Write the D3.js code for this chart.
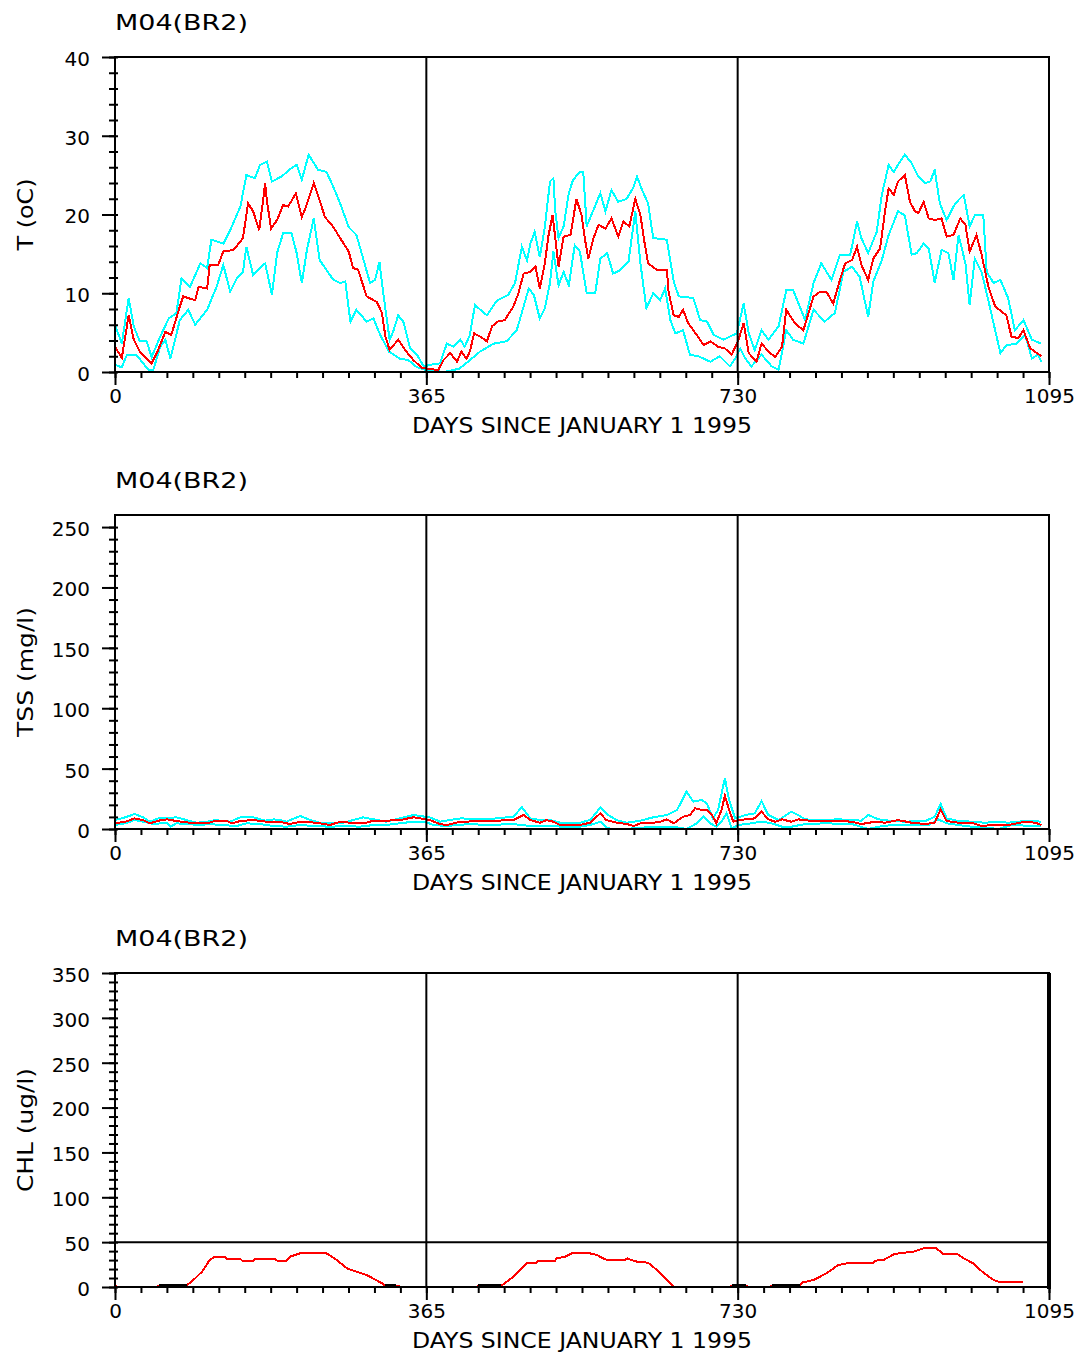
<!DOCTYPE html>
<html><head><meta charset="utf-8">
<script src="https://cdn.jsdelivr.net/npm/d3@7"></script>
<style>
body{margin:0;background:#fff}
svg{display:block}
text{font-family:"DejaVu Sans",sans-serif;fill:#000}
</style>
</head><body>
<svg id="chart" width="1087" height="1354"></svg>
<script>
// ---------------- DATA ----------------
const stationTitle = "M04(BR2)";
const xAxisTitle = "DAYS SINCE JANUARY 1 1995";
const xLabelDays = [0, 365, 730, 1095];
const yearLineDays = [365, 730];
const tempTicks = [0, 10, 20, 30, 40];
const tssTicks = [0, 50, 100, 150, 200, 250];
const chlTicks = [0, 50, 100, 150, 200, 250, 300, 350];
const chlRefLine = [50];

// Temperature (oC): [day, value]
const tempMax = [[0,6.0],[8,3.6],[16,9.4],[22,5.8],[29,3.9],[37,3.9],[43,1.9],[53,4.5],[63,6.8],[72,7.5],[78,11.9],[88,10.8],[100,13.8],[108,13.2],[113,16.8],[127,16.3],[135,18.0],[147,21.0],[154,25.0],[164,24.6],[170,26.3],[178,26.7],[184,24.2],[195,24.8],[207,25.9],[213,26.3],[219,24.4],[227,27.6],[238,25.7],[248,25.4],[256,23.5],[264,21.4],[274,18.4],[283,17.4],[291,14.4],[299,11.3],[305,11.7],[310,14.0],[315,9.6],[322,4.1],[326,5.1],[332,7.2],[338,6.4],[346,3.0],[354,2.2],[362,0.7],
[369,0.9],[381,1.1],[389,3.6],[397,3.2],[405,4.1],[410,3.2],[416,4.7],[422,8.5],[436,7.2],[448,9.1],[461,9.8],[469,11.3],[477,15.9],[483,14.2],[487,16.3],[492,17.8],[498,14.6],[504,18.5],[510,24.2],[514,24.6],[516,20.6],[520,17.0],[526,18.5],[532,22.7],[537,24.4],[545,25.4],[549,25.4],[553,18.5],[561,20.6],[569,22.7],[575,20.4],[582,23.1],[590,21.6],[600,22.0],[608,23.5],[612,24.8],[618,23.1],[625,21.4],[631,17.0],[647,16.8],[655,11.5],[661,9.6],[678,9.4],[686,6.6],[694,6.4],[702,4.7],[713,4.1],[729,4.9],[737,8.7],[743,4.9],
[750,2.8],[758,5.3],[766,4.1],[778,5.8],[787,10.4],[795,10.4],[809,6.6],[819,11.3],[828,13.8],[840,11.7],[850,14.9],[862,14.9],[870,19.1],[875,17.0],[883,15.1],[893,17.8],[899,22.5],[907,26.3],[913,25.4],[918,26.3],[926,27.6],[934,26.5],[942,24.8],[950,24.0],[956,24.2],[961,25.7],[967,21.4],[975,19.3],[985,21.4],[995,22.5],[1002,18.5],[1008,19.9],[1018,19.9],[1022,12.7],[1030,11.3],[1038,11.7],[1047,9.4],[1055,5.3],[1065,6.6],[1075,4.1],[1086,3.6]];

const tempMean = [[0,3.2],[8,1.8],[16,7.2],[22,4.1],[29,2.6],[43,1.1],[49,2.4],[59,5.1],[66,4.7],[76,8.3],[80,9.6],[94,9.1],[98,10.8],[108,10.6],[111,13.6],[121,13.6],[127,15.3],[139,15.5],[150,17.0],[156,21.4],[162,20.4],[169,18.0],[174,22.1],[176,24.0],[178,21.8],[183,18.2],[190,19.3],[197,21.2],[203,21.0],[212,22.7],[219,19.7],[224,21.0],[233,24.0],[240,21.8],[246,19.7],[256,18.4],[264,17.0],[274,15.3],[279,13.2],[285,13.0],[295,9.6],[307,8.9],[313,7.5],[317,4.5],[322,2.8],[332,4.1],[340,2.8],[350,1.5],[360,0.5],
[365,0.45],[379,0.25],[385,1.5],[393,2.4],[401,1.3],[406,2.6],[412,1.7],[416,2.6],[421,4.9],[428,4.5],[436,3.9],[442,5.8],[449,6.4],[457,6.6],[467,8.3],[473,10.0],[479,12.5],[487,12.7],[493,13.4],[498,10.6],[504,13.8],[508,17.2],[513,19.9],[516,17.2],[520,13.4],[526,17.2],[534,17.4],[541,22.0],[547,19.9],[551,16.8],[555,14.4],[561,17.0],[567,18.7],[575,18.2],[582,19.5],[590,17.2],[596,19.1],[603,18.5],[610,22.0],[616,19.9],[621,16.3],[625,13.8],[635,13.0],[647,13.0],[649,10.2],[655,7.2],[661,7.0],[666,7.9],[672,6.2],[682,4.7],[690,3.4],[698,3.9],[707,3.2],[715,3.0],[723,2.2],[731,4.1],[737,6.2],[743,2.4],
[752,1.3],[758,3.6],[768,2.4],[774,1.9],[782,3.2],[787,7.9],[797,6.2],[807,5.3],[819,9.6],[827,10.2],[834,10.2],[842,8.7],[850,11.7],[856,13.8],[864,14.2],[870,15.9],[875,13.6],[883,11.7],[889,14.4],[897,15.7],[903,20.6],[907,23.3],[913,22.5],[918,24.2],[926,25.0],[932,21.6],[938,20.4],[942,20.2],[948,21.6],[954,19.5],[961,19.3],[969,19.5],[975,17.2],[983,17.4],[991,19.5],[997,18.7],[1002,15.3],[1010,17.4],[1016,14.9],[1024,10.8],[1032,8.3],[1045,7.2],[1051,4.5],[1059,4.3],[1065,5.3],[1073,3.0],[1081,2.4],[1086,2.0]];

const tempMin = [[0,0.9],[8,0.6],[14,2.2],[25,2.2],[33,1.1],[39,0.3],[45,0.3],[53,3.2],[59,4.1],[65,1.7],[76,6.6],[86,7.9],[94,6.0],[108,7.9],[119,10.8],[127,13.6],[135,10.2],[143,11.9],[150,12.7],[154,15.9],[162,12.3],[176,13.8],[184,9.8],[190,15.1],[197,17.6],[207,17.6],[213,15.1],[219,11.3],[225,15.5],[233,19.5],[240,14.2],[256,11.7],[264,11.3],[270,11.5],[276,6.4],[283,7.9],[295,6.4],[303,6.8],[311,4.7],[321,2.6],[334,1.7],[344,1.5],[354,0.6],[363,0.3],
[369,0.25],[385,0.0],[397,0.25],[404,0.45],[416,1.5],[428,2.6],[444,3.6],[459,3.9],[471,5.3],[479,8.3],[485,10.6],[491,9.8],[498,6.8],[504,8.1],[510,11.3],[514,15.3],[520,11.0],[526,12.7],[532,11.0],[539,16.1],[545,15.3],[553,10.0],[563,10.0],[569,14.4],[577,15.1],[584,12.5],[592,12.9],[602,14.0],[610,20.4],[616,13.8],[623,8.1],[631,10.0],[639,9.1],[645,10.6],[651,6.6],[657,4.9],[666,5.3],[674,2.2],[684,2.0],[698,1.3],[709,2.0],[721,0.7],[727,1.7],
[733,3.0],[739,1.7],[746,0.7],[758,2.2],[770,0.7],[778,0.3],[787,5.3],[795,4.1],[807,3.6],[819,7.9],[832,6.4],[844,7.5],[854,12.7],[864,13.4],[873,12.1],[883,7.0],[889,11.5],[899,14.2],[907,17.4],[918,20.4],[926,19.9],[934,14.9],[940,15.1],[948,16.3],[954,15.7],[961,11.3],[969,15.5],[977,15.1],[983,11.7],[989,17.4],[997,13.8],[1002,8.5],[1008,14.4],[1016,12.7],[1026,8.1],[1038,2.4],[1045,3.4],[1057,3.6],[1067,4.7],[1075,1.7],[1082,2.2],[1086,1.3]];

// TSS (mg/l)
const tssMax = [[0,7.4],[12,9.7],[23,12.4],[33,9.7],[41,6.1],[51,8.8],[61,8.8],[72,9.7],[84,7.4],[96,5.2],[108,6.1],[117,7.4],[135,6.1],[147,9.7],[162,9.7],[176,6.9],[186,8.0],[193,7.4],[201,6.1],[217,10.8],[229,7.4],[240,5.2],[256,5.2],[268,5.2],[279,7.4],[291,9.7],[303,8.0],[318,6.1],[334,8.8],[350,11.6],[363,10.2],
[369,9.7],[381,6.1],[405,8.8],[436,8.0],[467,10.2],[477,18.0],[487,8.8],[498,7.4],[510,7.4],[522,5.2],[545,5.2],[557,7.4],[569,17.8],[578,11.6],[588,7.4],[600,5.2],[616,6.9],[631,9.7],[647,11.6],[659,15.7],[664,22.6],[670,30.9],[678,22.6],[688,24.0],[694,21.2],[701,8.8],[707,15.7],[715,42.0],[720,24.0],[727,8.8],
[739,11.6],[750,13.0],[758,22.9],[766,11.6],[778,7.4],[793,14.3],[801,11.6],[809,8.0],[825,7.4],[848,8.0],[864,7.4],[875,6.9],[883,11.6],[895,8.0],[911,6.6],[926,6.1],[950,6.6],[961,10.2],[968,20.7],[975,8.8],[989,6.6],[1004,6.1],[1020,5.2],[1036,6.1],[1047,5.2],[1059,6.1],[1071,6.6],[1086,6.1]];

const tssMean = [[0,4.7],[12,6.0],[23,8.8],[33,7.4],[41,4.7],[51,6.9],[61,8.0],[72,6.6],[88,5.2],[111,5.2],[117,6.9],[131,6.6],[137,4.7],[147,6.6],[162,7.4],[178,6.0],[193,6.0],[205,4.1],[217,6.0],[236,5.2],[252,3.3],[264,6.0],[276,5.2],[295,5.2],[303,6.9],[318,6.9],[334,7.4],[350,9.7],[360,8.5],
[369,7.4],[381,4.1],[389,3.3],[405,6.0],[436,6.6],[467,7.4],[479,11.6],[487,7.4],[498,5.2],[506,7.4],[514,6.0],[522,3.3],[545,3.3],[557,5.2],[569,13.0],[576,7.4],[588,5.2],[600,4.1],[608,2.5],[616,4.7],[631,5.2],[639,6.0],[647,8.0],[655,4.7],[666,10.2],[674,11.6],[680,17.1],[688,15.7],[694,15.7],[700,11.6],[705,4.7],[711,15.7],[715,27.5],[720,15.7],[725,6.0],
[731,7.4],[750,8.8],[758,14.3],[766,8.0],[774,6.0],[782,8.0],[793,6.0],[801,8.0],[817,6.6],[852,6.6],[864,6.0],[875,4.1],[891,6.0],[903,5.2],[918,7.4],[934,5.2],[950,4.1],[961,5.2],[968,16.3],[975,6.6],[989,5.2],[1004,5.2],[1016,2.5],[1028,3.3],[1047,3.3],[1067,6.0],[1079,5.2],[1086,3.3]];

const tssMin = [[0,3.3],[12,4.7],[23,7.4],[33,6.1],[45,4.1],[61,5.2],[65,1.9],[72,4.7],[84,4.1],[100,3.3],[111,4.1],[123,3.3],[143,2.5],[154,4.7],[170,4.1],[186,2.5],[201,1.9],[217,3.3],[233,2.5],[252,1.9],[272,2.5],[287,1.9],[303,3.3],[318,3.3],[334,4.7],[350,6.1],[363,6.1],
[373,3.3],[389,2.5],[416,4.1],[436,3.3],[467,4.1],[487,2.5],[506,2.5],[526,1.9],[545,1.9],[557,3.3],[569,6.1],[578,0.5],[592,0.0],[608,0.5],[631,1.9],[655,1.9],[670,0.0],[682,4.7],[690,10.2],[698,4.7],[705,1.9],[711,6.1],[717,13.0],[723,0.5],
[731,3.3],[746,4.7],[758,6.1],[770,4.7],[782,1.9],[793,1.9],[809,4.1],[832,4.7],[864,4.1],[883,0.0],[895,1.9],[911,3.3],[934,3.3],[954,3.3],[965,8.0],[975,4.7],[989,3.3],[1004,1.9],[1020,1.1],[1036,0.0],[1051,3.3],[1067,2.8],[1086,2.8]];

// CHL (ug/l)
const chlMean = [[0,1.1],[3,0.4],[50,0.4],[51,1.5],[84,1.5],[86,3.3],[94,9.7],[102,17.1],[111,30.1],[117,33.8],[129,33.8],[131,31.2],[147,31.2],[149,29.4],[162,29.4],[164,31.2],[188,31.2],[190,29.4],[201,29.4],[205,33.8],[217,37.5],[248,37.5],[260,30.1],[272,20.8],[283,17.1],[295,13.4],[313,4.1],[316,1.5],[330,1.5],[334,0.4],
[424,0.4],[426,1.5],[453,1.5],[467,11.5],[483,26.4],[494,26.4],[496,29.4],[516,29.4],[518,32.0],[528,33.8],[537,38.3],[553,38.3],[565,35.7],[572,32.0],[577,30.1],[598,30.1],[601,32.0],[605,30.1],[612,28.3],[625,27.1],[633,20.8],[643,11.5],[653,2.2],[655,0.4],
[721,0.4],[723,1.5],[740,1.5],[742,0.4],[768,0.4],[770,1.5],[803,1.5],[805,4.8],[819,7.8],[834,15.2],[848,24.5],[858,26.4],[889,26.4],[891,29.4],[901,30.1],[914,36.9],[936,39.4],[948,43.1],[963,43.1],[971,36.9],[987,36.9],[995,32.0],[1006,26.4],[1018,16.0],[1030,7.8],[1038,5.2],[1065,5.2]];
// dark low-level CHL segments (drawn in black)
const chlLowSegments = [
  [[51,2.4],[84,2.4]],
  [[316,2.4],[330,2.4]],
  [[426,2.4],[453,2.4]],
  [[723,2.4],[740,2.4]],
  [[770,2.4],[803,2.4]]
];

// ---------------- LAYOUT ----------------
const W = 1087, H = 1354;
const plotLeft = 115, plotRight = 1049;
const cyan = "#00ffff", red = "#ff0000";

const panels = [
  {top: 57, bottom: 372, domain: [0, 40], ticks: tempTicks, minorStep: 2, ylabel: "T (oC)", ylabelLen: 72,
   series: [[tempMax, cyan], [tempMin, cyan], [tempMean, red]], dark: [], refs: []},
  {top: 515, bottom: 829, domain: [0, 260], ticks: tssTicks, minorStep: 10, ylabel: "TSS (mg/l)", ylabelLen: 130,
   series: [[tssMax, cyan], [tssMin, cyan], [tssMean, red]], dark: [], refs: []},
  {top: 973, bottom: 1287, domain: [0, 350], ticks: chlTicks, minorStep: 10, ylabel: "CHL (ug/l)", ylabelLen: 124,
   series: [[chlMean, red]], dark: chlLowSegments, refs: chlRefLine, thickRight: true}
];

const svg = d3.select("#chart");
svg.append("rect").attr("width", W).attr("height", H).attr("fill", "#fff");

const x = d3.scaleLinear().domain([0, 1095]).range([plotLeft, plotRight]);
const monthTicks = d3.range(0, 37).map(i => i * 1095 / 36);

panels.forEach(p => {
  const y = d3.scaleLinear().domain(p.domain).range([p.bottom, p.top]);
  const g = svg.append("g");

  // data lines
  const line = d3.line().x(d => x(d[0])).y(d => y(d[1]));
  p.series.forEach(([data, color]) => {
    g.append("path").datum(data).attr("d", line)
      .attr("fill", "none").attr("stroke", color).attr("stroke-width", 2)
      .attr("stroke-linejoin", "miter").attr("shape-rendering", "crispEdges");
  });
  p.dark.forEach(seg => {
    g.append("path").datum(seg).attr("d", line)
      .attr("fill", "none").attr("stroke", "#000").attr("stroke-width", 2)
      .attr("shape-rendering", "crispEdges");
  });

  // year separators
  yearLineDays.forEach(d => {
    g.append("line").attr("x1", x(d)).attr("x2", x(d)).attr("y1", p.top).attr("y2", p.bottom)
      .attr("stroke", "#000").attr("stroke-width", 2);
  });
  // reference lines
  p.refs.forEach(v => {
    g.append("line").attr("x1", plotLeft).attr("x2", plotRight).attr("y1", y(v)).attr("y2", y(v))
      .attr("stroke", "#000").attr("stroke-width", 2);
  });

  // frame
  g.append("rect").attr("x", plotLeft).attr("y", p.top)
    .attr("width", plotRight - plotLeft).attr("height", p.bottom - p.top)
    .attr("fill", "none").attr("stroke", "#000").attr("stroke-width", 2);
  if (p.thickRight) {
    g.append("line").attr("x1", plotRight).attr("x2", plotRight).attr("y1", p.top).attr("y2", p.bottom + 2)
      .attr("stroke", "#000").attr("stroke-width", 4);
  }

  // x minor ticks
  const xMinor = g.append("g").attr("transform", `translate(0,${p.bottom})`)
    .call(d3.axisBottom(x).tickValues(monthTicks).tickSize(6).tickFormat(""));
  // x major ticks + labels
  const xMajor = g.append("g").attr("transform", `translate(0,${p.bottom})`)
    .call(d3.axisBottom(x).tickValues(xLabelDays).tickSize(13).tickPadding(4).tickFormat(d3.format("d")));
  [xMinor, xMajor].forEach(a => {
    a.select(".domain").remove();
    a.selectAll("line").attr("stroke", "#000").attr("stroke-width", 2);
  });
  xMajor.selectAll("text").attr("font-size", 20).attr("font-family", "DejaVu Sans").attr("fill", "#000");

  // y minor ticks
  const yMinor = g.append("g").attr("transform", `translate(${plotLeft + 3},0)`)
    .call(d3.axisLeft(y).tickValues(d3.range(p.domain[0], d3.max(p.ticks) + 0.001, p.minorStep)).tickSize(9).tickFormat(""));
  const yMajor = g.append("g").attr("transform", `translate(${plotLeft},0)`)
    .call(d3.axisLeft(y).tickValues(p.ticks).tickSize(13).tickPadding(12).tickFormat(d3.format("d")));
  [yMinor, yMajor].forEach(a => {
    a.select(".domain").remove();
    a.selectAll("line").attr("stroke", "#000").attr("stroke-width", 2);
  });
  yMajor.selectAll("text").attr("font-size", 20).attr("dy", "0.42em")
    .attr("font-family", "DejaVu Sans").attr("fill", "#000");

  // titles
  svg.append("text").attr("x", plotLeft).attr("y", p.top - 27.5)
    .attr("font-size", 22).attr("textLength", 133).attr("lengthAdjust", "spacingAndGlyphs")
    .text(stationTitle);
  svg.append("text").attr("x", (plotLeft + plotRight) / 2).attr("y", p.bottom + 61)
    .attr("text-anchor", "middle").attr("font-size", 21)
    .attr("textLength", 340).attr("lengthAdjust", "spacingAndGlyphs")
    .text(xAxisTitle);
  svg.append("text")
    .attr("transform", `translate(33,${(p.top + p.bottom) / 2}) rotate(-90)`)
    .attr("text-anchor", "middle").attr("font-size", 21)
    .attr("textLength", p.ylabelLen).attr("lengthAdjust", "spacingAndGlyphs")
    .text(p.ylabel);
});
</script>
</body></html>
